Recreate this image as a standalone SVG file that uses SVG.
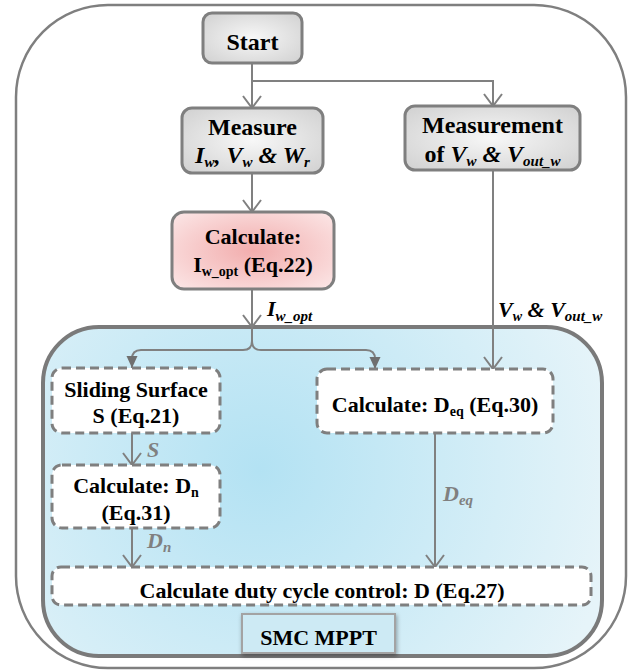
<svg xmlns="http://www.w3.org/2000/svg" width="629" height="672" viewBox="0 0 629 672" font-family="'Liberation Serif', Tinos, 'Times New Roman', 'DejaVu Serif', serif">
  <style>
    text { font-family: "Liberation Serif", Tinos, "Times New Roman", "DejaVu Serif", serif; font-weight: bold; fill: #000; }
    .big { font-size: 24px; }
    .mid { font-size: 22px; }
    .it { font-style: italic; }
    .grey { fill: #808080; }
    .solid { fill: url(#greyFill); stroke: #7f7f7f; stroke-width: 3; }
    .dash { fill: #fff; stroke: #7f7f7f; stroke-width: 3; stroke-dasharray: 9 5; }
    .wire { fill: none; stroke: #808080; stroke-width: 2; }
  </style>
  <defs>
    <radialGradient id="greyFill" cx="50%" cy="50%" r="65%">
      <stop offset="0" stop-color="#f7f7f7"/>
      <stop offset="1" stop-color="#d3d3d3"/>
    </radialGradient>
    <radialGradient id="pinkFill" cx="50%" cy="50%" r="65%">
      <stop offset="0" stop-color="#f2adad"/>
      <stop offset="1" stop-color="#fbe3e3"/>
    </radialGradient>
    <radialGradient id="blueFill" gradientUnits="userSpaceOnUse" cx="260" cy="470" r="360">
      <stop offset="0" stop-color="#b3e2f3"/>
      <stop offset="1" stop-color="#e6f4f9"/>
    </radialGradient>
    <filter id="soft" x="-20%" y="-30%" width="140%" height="170%">
      <feDropShadow dx="1" dy="2" stdDeviation="2" flood-color="#000" flood-opacity="0.35"/>
    </filter>
    <marker id="vee" markerUnits="userSpaceOnUse" markerWidth="30" markerHeight="30" orient="auto" overflow="visible">
      <path d="M-12,-9 L0,0 L-12,9" fill="none" stroke="#808080" stroke-width="2"/>
    </marker>
    <marker id="tri" markerUnits="userSpaceOnUse" markerWidth="30" markerHeight="30" orient="auto" overflow="visible">
      <path d="M0,0 L-12,-5.5 L-12,5.5 Z" fill="#6f6f6f"/>
    </marker>
  </defs>

  <!-- outer frame -->
  <rect id="frame" x="16" y="5" width="610" height="663" rx="92" fill="#fff" stroke="#7f7f7f" stroke-width="2.5"/>

  <!-- SMC MPPT controller region -->
  <g id="smc-region">
    <rect x="43" y="327" width="559" height="329" rx="56" fill="url(#blueFill)" stroke="#7a7a7a" stroke-width="4"/>
  </g>

  <g id="connectors">
    <path class="wire" d="M252,63 V108" marker-end="url(#vee)"/>
    <path class="wire" d="M252,81 H493 V106" marker-end="url(#vee)"/>
    <path class="wire" d="M252,173 V212" marker-end="url(#vee)"/>
    <path class="wire" d="M252,289 V327" marker-end="url(#vee)"/>
    <path class="wire" d="M252,327 V341 Q252,350 243,350 H141 Q132,350 132,359 V368" marker-end="url(#tri)"/>
    <path class="wire" d="M252,341 Q252,350 261,350 H366 Q375,350 375,359 V369" marker-end="url(#tri)"/>
    <path class="wire" d="M493,170 V369" marker-end="url(#vee)"/>
    <path class="wire" d="M132,433 V465" marker-end="url(#vee)"/>
    <path class="wire" d="M132,528 V567" marker-end="url(#vee)"/>
    <path class="wire" d="M435,433 V567" marker-end="url(#vee)"/>
  </g>

  <g id="connector-labels">
    <text class="mid it" x="267" y="316">I<tspan font-size="15" dy="5">w_opt</tspan></text>
    <text class="mid it" x="498" y="317">V<tspan font-size="14" dy="4">w</tspan><tspan dy="-4"> &amp; V</tspan><tspan font-size="15" dy="4">out_w</tspan></text>
    <text class="mid it grey" x="147" y="457">S</text>
    <text class="mid it grey" x="443" y="501">D<tspan font-size="15" dy="4">eq</tspan></text>
    <text class="mid it grey" x="147" y="548">D<tspan font-size="15" dy="4">n</tspan></text>
  </g>

  <g id="start">
    <rect class="solid" x="203" y="13" width="99" height="50" rx="9"/>
    <text class="big" x="252.5" y="50" text-anchor="middle">Start</text>
  </g>

  <g id="measure">
    <rect class="solid" x="182" y="108" width="141" height="65" rx="10"/>
    <text class="big" x="252.5" y="135" text-anchor="middle">Measure</text>
    <text class="big it" x="252.5" y="163" text-anchor="middle">I<tspan font-size="15" dy="4">w</tspan><tspan dy="-4">, V</tspan><tspan font-size="15" dy="4">w</tspan><tspan dy="-4"> &amp; W</tspan><tspan font-size="15" dy="4">r</tspan></text>
  </g>

  <g id="measurement">
    <rect class="solid" x="405" y="106" width="175" height="64" rx="10"/>
    <text class="big" x="492.5" y="133" text-anchor="middle">Measurement</text>
    <text class="big" x="492.5" y="162" text-anchor="middle">of <tspan font-style="italic">V</tspan><tspan font-style="italic" font-size="15" dy="4">w</tspan><tspan font-style="italic" dy="-4"> &amp; V</tspan><tspan font-style="italic" font-size="15" dy="4">out_w</tspan></text>
  </g>

  <g id="calc-iopt">
    <rect x="172" y="212" width="162" height="77" rx="12" fill="url(#pinkFill)" stroke="#7f7f7f" stroke-width="3"/>
    <text class="mid" x="253" y="244" text-anchor="middle">Calculate:</text>
    <text class="mid" x="253" y="272" text-anchor="middle">I<tspan font-size="14" dy="4">w_opt</tspan><tspan dy="-4"> (Eq.22)</tspan></text>
  </g>

  <g id="sliding-surface">
    <rect class="dash" x="52" y="368" width="168" height="65" rx="10"/>
    <text class="mid" x="136" y="397" text-anchor="middle">Sliding Surface</text>
    <text class="mid" x="136" y="423" text-anchor="middle">S (Eq.21)</text>
  </g>

  <g id="calc-dn">
    <rect class="dash" x="52" y="465" width="168" height="63" rx="10"/>
    <text class="mid" x="136" y="493" text-anchor="middle">Calculate: D<tspan font-size="14" dy="4">n</tspan></text>
    <text class="mid" x="136" y="520" text-anchor="middle">(Eq.31)</text>
  </g>

  <g id="calc-deq">
    <rect class="dash" x="317" y="369" width="236" height="64" rx="10"/>
    <text class="mid" x="435" y="412" text-anchor="middle">Calculate: D<tspan font-size="14" dy="4">eq</tspan><tspan dy="-4"> (Eq.30)</tspan></text>
  </g>

  <g id="calc-duty">
    <rect class="dash" x="52" y="567" width="539" height="38" rx="9"/>
    <text class="mid" x="322" y="598" text-anchor="middle">Calculate duty cycle control: D (Eq.27)</text>
  </g>

  <g id="smc-label">
    <rect x="242" y="614" width="153" height="39" fill="#cdeaf4" stroke="#a3a3a3" stroke-width="2" filter="url(#soft)"/>
    <text class="mid" x="318.5" y="645" text-anchor="middle">SMC MPPT</text>
  </g>
</svg>
